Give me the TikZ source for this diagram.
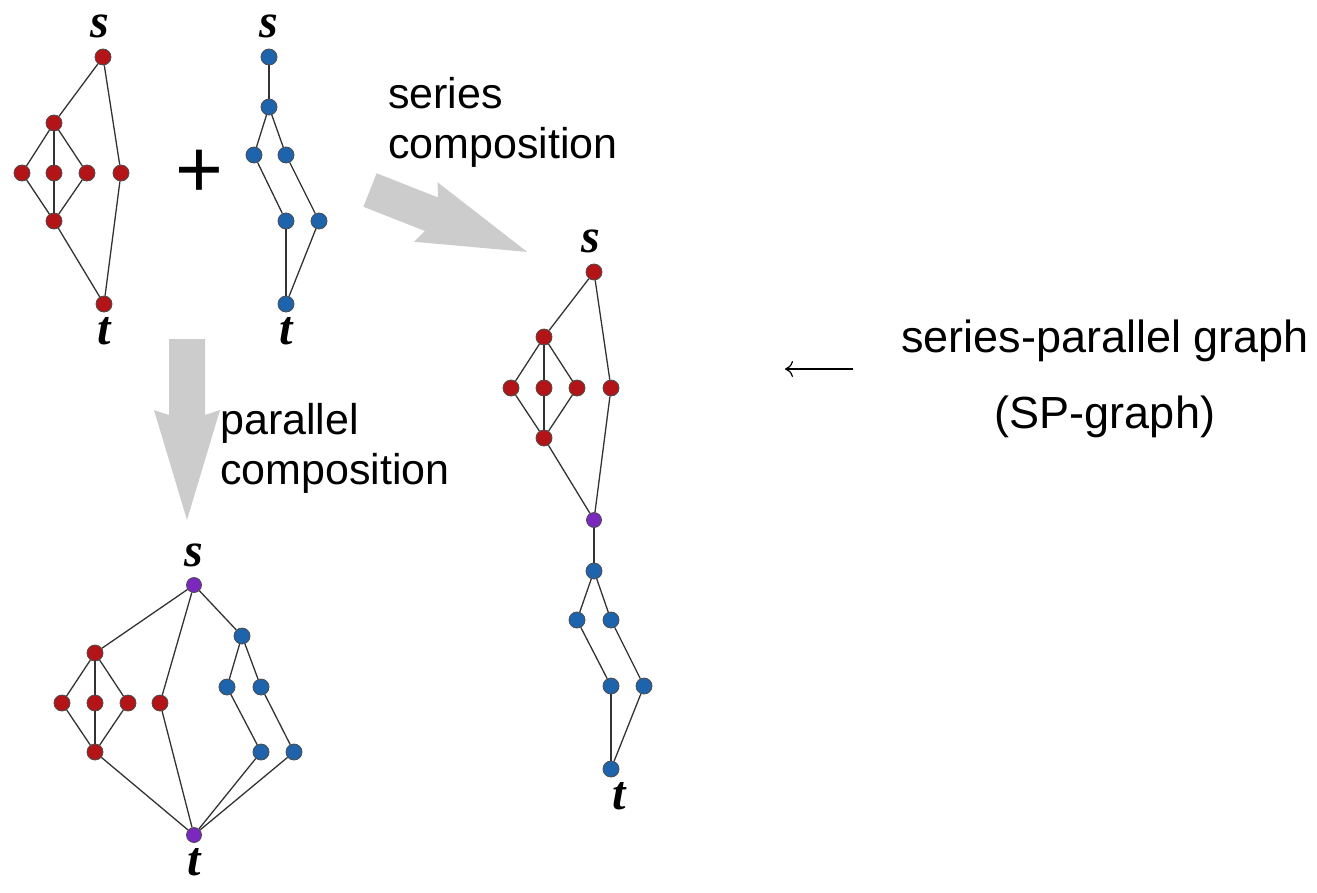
\documentclass[tikz,border=0pt]{standalone}
\usepackage{fontspec}
\newfontfamily\sansfam{Liberation Sans}
\newfontfamily\seriffam{Liberation Serif}
\usetikzlibrary{positioning,arrows.meta}
\definecolor{spred}{RGB}{178,20,24}
\definecolor{spblue}{RGB}{30,100,172}
\definecolor{sppurple}{RGB}{122,40,190}
\definecolor{arrowgray}{RGB}{204,204,204}
\tikzset{
  vtx/.style={circle,draw=black!70,line width=0.8pt,inner sep=0pt,minimum size=16pt},
  rv/.style={vtx,fill=spred},
  bv/.style={vtx,fill=spblue},
  pv/.style={vtx,fill=sppurple,minimum size=15pt},
  edge/.style={line width=1.3pt,black!80},
  term/.style={font=\seriffam\bfseries\itshape\fontsize{48}{48}\selectfont,inner sep=0pt},
  caption/.style={font=\sansfam\fontsize{43}{50}\selectfont,align=left,inner sep=0pt},
}
\begin{document}
\begin{tikzpicture}[x=1pt,y=-1pt]
  \useasboundingbox (0,0) rectangle (1317,892);
  % first graph (red)
  \draw
    (103,57) node[rv] (As){}
    (54,123) node[rv] (Aa){}
    (22,173) node[rv] (Al){}
    (54,173) node[rv] (Am){}
    (87,173) node[rv] (Ar){}
    (121,173) node[rv] (Af){}
    (54,221) node[rv] (Ab){}
    (104,304) node[rv] (At){};
  % second graph (blue)
  \draw
    (269,57) node[bv] (Bs){}
    (269,107) node[bv] (B1){}
    (254,155) node[bv] (B2l){}
    (286,155) node[bv] (B2r){}
    (286,221) node[bv] (B3l){}
    (319,221) node[bv] (B3r){}
    (286,304) node[bv] (Bt){};
  % series composition
  \draw
    (594,272) node[rv] (Ss){}
    (544,337) node[rv] (Sa){}
    (511,388) node[rv] (Sl){}
    (544,388) node[rv] (Sm){}
    (577,388) node[rv] (Sr){}
    (611,388) node[rv] (Sf){}
    (544,438) node[rv] (Sb){}
    (594,520) node[pv] (Sp){}
    (594,571) node[bv] (S1){}
    (577,620) node[bv] (S2l){}
    (611,620) node[bv] (S2r){}
    (611,686) node[bv] (S3l){}
    (644,686) node[bv] (S3r){}
    (611,769) node[bv] (St){};
  % parallel composition
  \draw
    (194,585) node[pv] (Ps){}
    (95,653) node[rv] (Pa){}
    (62,703) node[rv] (Pl){}
    (95,703) node[rv] (Pm){}
    (128,703) node[rv] (Pr){}
    (160,703) node[rv] (Pf){}
    (95,752) node[rv] (Pb){}
    (242,636) node[bv] (P1){}
    (227,687) node[bv] (P2l){}
    (261,687) node[bv] (P2r){}
    (261,752) node[bv] (P3l){}
    (294,752) node[bv] (P3r){}
    (194,835) node[pv] (Pt){};
  \begin{scope}[edge]
    \draw (As) -- (Aa);
    \draw (As) -- (Af);
    \draw (Aa) -- (Al);
    \draw (Aa) -- (Am);
    \draw (Aa) -- (Ar);
    \draw (Al) -- (Ab);
    \draw (Am) -- (Ab);
    \draw (Ar) -- (Ab);
    \draw (Ab) -- (At);
    \draw (Af) -- (At);
    \draw (Bs) -- (B1);
    \draw (B1) -- (B2l);
    \draw (B1) -- (B2r);
    \draw (B2l) -- (B3l);
    \draw (B2r) -- (B3r);
    \draw (B3l) -- (Bt);
    \draw (B3r) -- (Bt);
    \draw (Ss) -- (Sa);
    \draw (Ss) -- (Sf);
    \draw (Sa) -- (Sl);
    \draw (Sa) -- (Sm);
    \draw (Sa) -- (Sr);
    \draw (Sl) -- (Sb);
    \draw (Sm) -- (Sb);
    \draw (Sr) -- (Sb);
    \draw (Sb) -- (Sp);
    \draw (Sf) -- (Sp);
    \draw (Sp) -- (S1);
    \draw (S1) -- (S2l);
    \draw (S1) -- (S2r);
    \draw (S2l) -- (S3l);
    \draw (S2r) -- (S3r);
    \draw (S3l) -- (St);
    \draw (S3r) -- (St);
    \draw (Ps) -- (Pa);
    \draw (Ps) -- (Pf);
    \draw (Ps) -- (P1);
    \draw (Pa) -- (Pl);
    \draw (Pa) -- (Pm);
    \draw (Pa) -- (Pr);
    \draw (Pl) -- (Pb);
    \draw (Pm) -- (Pb);
    \draw (Pr) -- (Pb);
    \draw (Pb) -- (Pt);
    \draw (Pf) -- (Pt);
    \draw (P1) -- (P2l);
    \draw (P1) -- (P2r);
    \draw (P2l) -- (P3l);
    \draw (P2r) -- (P3r);
    \draw (P3l) -- (Pt);
    \draw (P3r) -- (Pt);
  \end{scope}
  % source and sink labels
  \node[term,above=10pt of As,xshift=-3pt] (Asl) {s};
  \node[term,below=5pt of At] (Atl) {t};
  \node[term,above=10pt of Bs] (Bsl) {s};
  \node[term,below=5pt of Bt] (Btl) {t};
  \node[term,above=10pt of Ss,xshift=-3pt] (Ssl) {s};
  \node[term,below=5pt of St,xshift=8pt] (Stl) {t};
  \node[term,above=10pt of Ps] (Psl) {s};
  \node[term,below=5pt of Pt] (Ptl) {t};
  \node[font=\sansfam\fontsize{82}{82}\selectfont,inner sep=0pt] (plus) at (199,174) {+};
  % big grey arrows
  \begin{scope}[shift={(370,190)},rotate=-21.5]
    \fill[arrowgray] (0,-18) -- (66,-18) -- (60,-32) -- (169,0) -- (60,32) -- (66,18) -- (0,18) -- cycle;
  \end{scope}
  \begin{scope}[shift={(187,339)},rotate=-90]
    \fill[arrowgray] (0,-18) -- (76,-18) -- (71,-33) -- (181,0) -- (71,33) -- (76,18) -- (0,18) -- cycle;
  \end{scope}
  \node[caption,anchor=base west] (sercap) at (388,158) {series\\composition};
  \node[caption,anchor=base west] (parcap) at (220,484) {parallel\\composition};
  \node[caption,font=\sansfam\fontsize{45}{76}\selectfont,align=center,anchor=base] (spcap) at (1105,428) {series-parallel graph\\(SP-graph)};
  \coordinate (arrR) at (853,369);
  \coordinate (arrL) at (785,369);
  \draw[line width=1.2pt,-{Computer Modern Rightarrow[length=8pt,width=16pt]}] (arrR) -- (arrL);
\end{tikzpicture}
\end{document}
